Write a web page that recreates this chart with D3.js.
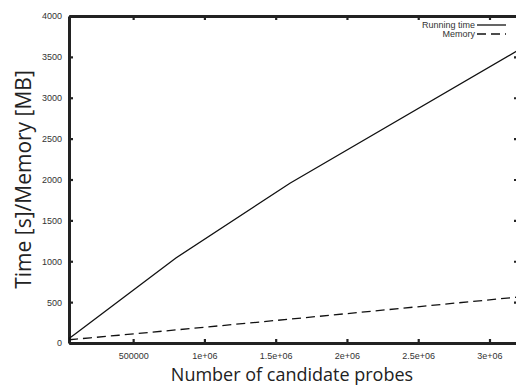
<!DOCTYPE html>
<html>
<head>
<meta charset="utf-8">
<script src="https://cdn.jsdelivr.net/npm/d3@7"></script>
<style>
  body { margin: 0; background: #fff; }
  svg { display: block; }
  .tick text { font-family: "Liberation Sans", Arial, sans-serif; font-size: 9px; fill: #333; }
</style>
</head>
<body>
<svg id="chart" width="516" height="387"></svg>
<script>
// Number of candidate probes
const probes = [50000, 100000, 200000, 400000, 800000, 1600000, 3200000];
// Running time [s]
const runningTime = [55, 120, 250, 515, 1040, 1955, 3580];
// Memory [MB]
const memory = [40, 48, 63, 95, 160, 292, 562];
const xTicks = [500000, 1000000, 1500000, 2000000, 2500000, 3000000];
const xTickLabels = ['500000', '1e+06', '1.5e+06', '2e+06', '2.5e+06', '3e+06'];
const yTicks = [0, 500, 1000, 1500, 2000, 2500, 3000, 3500, 4000];

const margin = { top: 16, right: -2, bottom: 44, left: 69 };
const width = 516 - margin.left - margin.right;
const height = 387 - margin.top - margin.bottom;

const svg = d3.select('#chart');
const g = svg.append('g').attr('transform', `translate(${margin.left},${margin.top})`);

const x = d3.scaleLinear().domain([50000, 3200000]).range([0, width]);
const y = d3.scaleLinear().domain([0, 4000]).range([height, 0]);

// Bottom axis with labels
const xAxis = d3.axisBottom(x).tickValues(xTicks)
  .tickFormat((d, i) => xTickLabels[i]).tickSize(-4).tickSizeOuter(0).tickPadding(10);
g.append('g').attr('class', 'x axis')
  .attr('transform', `translate(0,${height})`)
  .call(xAxis);

// Left axis with labels
const yAxis = d3.axisLeft(y).tickValues(yTicks).tickFormat(d3.format('d'))
  .tickSize(-4).tickSizeOuter(0).tickPadding(7);
g.append('g').attr('class', 'y axis').call(yAxis);

// Mirrored ticks on top and right
g.append('g').attr('class', 'x2 axis')
  .call(d3.axisTop(x).tickValues(xTicks).tickSize(-4).tickSizeOuter(0).tickFormat(''));
g.append('g').attr('class', 'y2 axis')
  .attr('transform', `translate(${width},0)`)
  .call(d3.axisRight(y).tickValues(yTicks.slice(1, -1)).tickSize(-4).tickSizeOuter(0).tickFormat(''));

g.selectAll('.axis path').attr('stroke', '#222').attr('stroke-width', 3);
g.selectAll('.axis line').attr('stroke', '#222').attr('stroke-width', 2.2);

// Series lines
const line = d3.line().x((d) => x(d[0])).y((d) => y(d[1]));

g.append('path')
  .datum(probes.map((p, i) => [p, runningTime[i]]))
  .attr('fill', 'none').attr('stroke', '#111').attr('stroke-width', 1.3)
  .attr('d', line);

g.append('path')
  .datum(probes.map((p, i) => [p, memory[i]]))
  .attr('fill', 'none').attr('stroke', '#111').attr('stroke-width', 1.3)
  .attr('stroke-dasharray', '9,5')
  .attr('d', line);

// Legend
const legend = svg.append('g').attr('font-family', '"Liberation Sans", Arial, sans-serif')
  .attr('font-size', 9).attr('fill', '#333');
[['Running time', null, 25], ['Memory', '9,5', 34]].forEach(([label, dash, ly]) => {
  legend.append('text').attr('x', 475).attr('y', ly).attr('dy', '0.35em')
    .attr('text-anchor', 'end').text(label);
  legend.append('line').attr('x1', 477).attr('x2', 506).attr('y1', ly).attr('y2', ly)
    .attr('stroke', '#111').attr('stroke-width', 1.3)
    .attr('stroke-dasharray', dash);
});

// Axis titles
svg.append('text')
  .attr('x', 292).attr('y', 381)
  .attr('text-anchor', 'middle')
  .attr('font-family', '"Open Sans", "Noto Sans", sans-serif')
  .attr('font-size', 18).attr('fill', '#222')
  .text('Number of candidate probes');

svg.append('text')
  .attr('transform', `translate(31,${margin.top + height / 2})rotate(-90)`)
  .attr('text-anchor', 'middle')
  .attr('font-family', '"Open Sans", "Noto Sans", sans-serif')
  .attr('font-size', 21).attr('fill', '#222')
  .text('Time [s]/Memory [MB]');
</script>
</body>
</html>
